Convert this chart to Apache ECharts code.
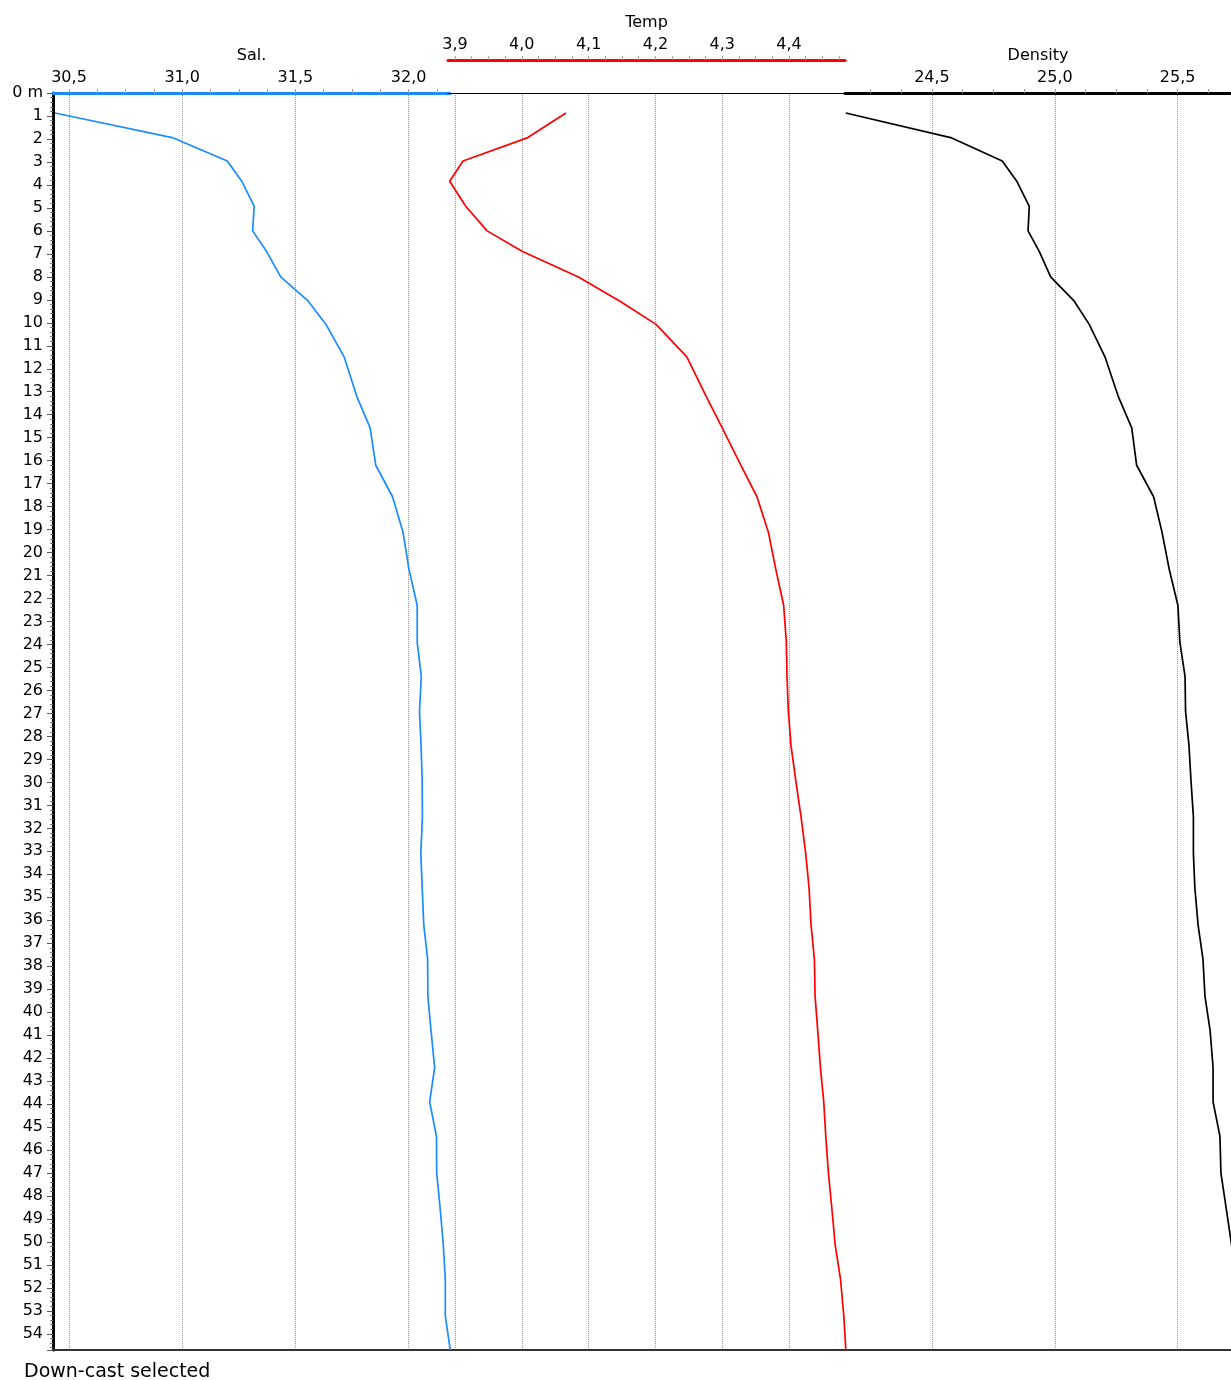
<!DOCTYPE html>
<html>
<head>
<meta charset="utf-8">
<title>CTD profile</title>
<script src="https://cdn.jsdelivr.net/npm/echarts@6/dist/echarts.min.js"></script>
<style>
  html, body { margin: 0; padding: 0; background: #fff; }
  #chart { width: 1231px; height: 1380px; }
</style>
</head>
<body>
<div id="chart"></div>
<script>
// Depth bins of the down-cast (m)
const depth = [0.87, 1.94, 2.96, 3.84, 4.93, 6.0, 6.9, 8.0, 9.06, 10.07, 11.48, 13.2, 14.57, 16.2,
  17.57, 19.1, 20.7, 22.3, 23.9, 25.4, 26.9, 28.4, 29.9, 31.5, 33.1, 34.6, 36.2, 37.7, 39.3,
  40.8, 42.4, 43.9, 45.4, 47.0, 48.5, 50.1, 51.6, 53.2, 54.7];

// Salinity at each bin
const salinity = [30.438, 30.956, 31.199, 31.263, 31.318, 31.311, 31.373, 31.435, 31.557, 31.635,
  31.715, 31.771, 31.830, 31.855, 31.929, 31.975, 32.001, 32.038, 32.038, 32.056, 32.048, 32.055,
  32.060, 32.061, 32.054, 32.060, 32.067, 32.084, 32.085, 32.099, 32.115, 32.093, 32.123, 32.124,
  32.139, 32.153, 32.162, 32.162, 32.184];

// Temperature at each bin
const temperature = [4.066, 4.009, 3.912, 3.892, 3.916, 3.948, 4.001, 4.084, 4.147, 4.201,
  4.247, 4.276, 4.300, 4.328, 4.352, 4.369, 4.380, 4.392, 4.396, 4.397, 4.399, 4.403, 4.410,
  4.418, 4.425, 4.430, 4.433, 4.438, 4.439, 4.443, 4.447, 4.452, 4.455, 4.459, 4.464, 4.469,
  4.477, 4.482, 4.485];

// Density (sigma) at each bin
const density = [24.149, 24.576, 24.786, 24.845, 24.896, 24.891, 24.937, 24.983, 25.079, 25.140,
  25.204, 25.258, 25.313, 25.333, 25.402, 25.436, 25.465, 25.501, 25.509, 25.530, 25.532, 25.546,
  25.554, 25.564, 25.564, 25.570, 25.583, 25.603, 25.611, 25.632, 25.644, 25.644, 25.672, 25.676,
  25.697, 25.719, 25.735, 25.750, 25.760];

// Labelled tick values
const salTicks = [30.5, 31.0, 31.5, 32.0];
const tempTicks = [3.9, 4.0, 4.1, 4.2, 4.3, 4.4];
const densTicks = [24.5, 25.0, 25.5];

// Axis extents
const salRange = [30.4293, 32.1828];
const tempRange = [3.8895, 4.4838];
const densRange = [24.146, 25.717];
const depthRange = [0, 54.7];

function steps(from, to, step) {
  const out = [];
  for (let i = 0; from + i * step <= to + 1e-9; i++) out.push(+(from + i * step).toFixed(4));
  return out;
}
const salMinor = steps(30.5, 32.125, 0.125);
const tempMinor = steps(3.9, 4.475, 0.025);
const densMinor = steps(24.25, 25.625, 0.125);

const FONT = 'DejaVu Sans';
const comma = v => v.toFixed(1).replace('.', ',');

function mainAxis(grid, range, ticks, name, color, offset) {
  return {
    type: 'value', gridIndex: grid, position: 'top', offset: offset,
    min: range[0], max: range[1],
    name: name, nameLocation: 'middle', nameGap: 29,
    nameTextStyle: { fontFamily: FONT, fontSize: 16, color: '#000' },
    axisLine: { show: true, onZero: false, lineStyle: { color: color, width: 3 } },
    axisTick: { show: true, customValues: ticks, length: 4, lineStyle: { color: '#8c8c8c' } },
    axisLabel: { show: true, customValues: ticks, margin: 7, fontFamily: FONT, fontSize: 16,
      color: '#000', formatter: comma },
    splitLine: { show: true, lineStyle: { color: '#9a9a9a', type: [1, 1], width: 1 } }
  };
}
function minorAxis(grid, range, ticks, offset) {
  return {
    type: 'value', gridIndex: grid, position: 'top', offset: offset,
    min: range[0], max: range[1],
    axisLine: { show: false, onZero: false },
    axisTick: { show: true, customValues: ticks, length: 4, lineStyle: { color: '#a0a0a0' } },
    axisLabel: { show: false },
    splitLine: { show: false }
  };
}
function frameAxis(grid, pos, color, width) {
  return {
    type: 'value', gridIndex: grid, position: pos, min: 0, max: 1,
    axisLine: { show: true, onZero: false, lineStyle: { color: color, width: width } },
    axisTick: { show: false }, axisLabel: { show: false }, splitLine: { show: false }
  };
}
function depthAxis(grid, visible) {
  return {
    type: 'value', gridIndex: grid, inverse: true,
    min: depthRange[0], max: depthRange[1], interval: 1,
    show: visible,
    axisLine: { show: true, onZero: false, lineStyle: { color: '#000', width: 3 } },
    axisTick: { show: true, length: 6, lineStyle: { color: '#555' } },
    minorTick: { show: true, splitNumber: 5, length: 3, lineStyle: { color: '#777' } },
    axisLabel: {
      margin: 10, fontFamily: FONT, fontSize: 16, color: '#000', padding: [4, 0, 0, 0],
      formatter: v => v === 0 ? '0 m' : (Number.isInteger(v) ? String(v) : '')
    },
    splitLine: { show: false }
  };
}

const chart = echarts.init(document.getElementById('chart'), null, { renderer: 'canvas' });
chart.setOption({
  animation: false,
  backgroundColor: '#fff',
  title: {
    text: 'Down-cast selected', left: 19, top: 1358,
    textStyle: { fontFamily: FONT, fontSize: 19, fontWeight: 'normal', color: '#000' }
  },
  grid: [
    { left: 53, top: 93, width: 397, height: 1257, outerBoundsMode: 'none' },
    { left: 448, top: 93, width: 397, height: 1257, outerBoundsMode: 'none' },
    { left: 845, top: 93, width: 386, height: 1257, outerBoundsMode: 'none' }
  ],
  xAxis: [
    mainAxis(0, salRange, salTicks, 'Sal.', '#1a8cff', 0),
    minorAxis(0, salRange, salMinor, 0),
    mainAxis(1, tempRange, tempTicks, 'Temp', '#ff0000', 33),
    minorAxis(1, tempRange, tempMinor, 33),
    frameAxis(1, 'top', '#000', 1),
    mainAxis(2, densRange, densTicks, 'Density', '#000', 0),
    minorAxis(2, densRange, densMinor, 0),
    frameAxis(0, 'bottom', '#333', 2),
    frameAxis(1, 'bottom', '#333', 2),
    frameAxis(2, 'bottom', '#333', 2)
  ],
  yAxis: [depthAxis(0, true), depthAxis(1, false), depthAxis(2, false)],
  series: [
    {
      name: 'Sal.', type: 'line', xAxisIndex: 0, yAxisIndex: 0, symbol: 'none', clip: false,
      data: depth.map((d, i) => [salinity[i], d]),
      lineStyle: { color: '#1a8cff', width: 1.7 }
    },
    {
      name: 'Temp', type: 'line', xAxisIndex: 2, yAxisIndex: 1, symbol: 'none', clip: false,
      data: depth.map((d, i) => [temperature[i], d]),
      lineStyle: { color: '#ff0000', width: 1.7 }
    },
    {
      name: 'Density', type: 'line', xAxisIndex: 5, yAxisIndex: 2, symbol: 'none', clip: false,
      data: depth.map((d, i) => [density[i], d]),
      lineStyle: { color: '#000', width: 1.7 }
    }
  ]
});
</script>
</body>
</html>
